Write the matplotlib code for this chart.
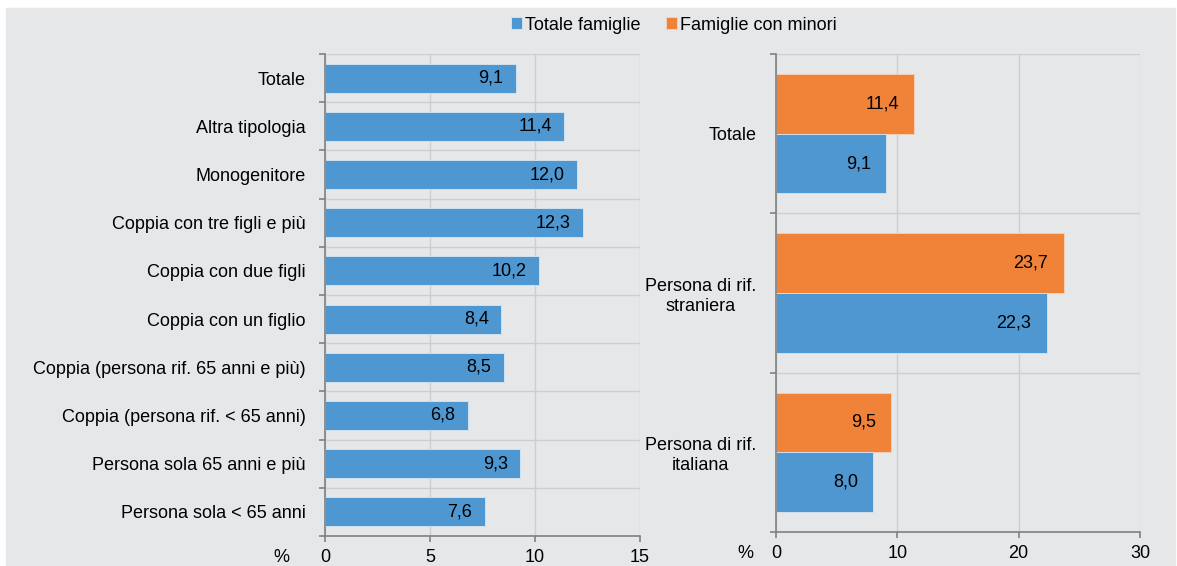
import matplotlib.pyplot as plt
from matplotlib.patches import Rectangle

plt.rcParams['font.family'] = ['Liberation Sans', 'DejaVu Sans']

# dati pannello sinistro (tipologia familiare)
tipologie = ["Totale", "Altra tipologia", "Monogenitore", "Coppia con tre figli e più",
             "Coppia con due figli", "Coppia con un figlio",
             "Coppia (persona rif. 65 anni e più)", "Coppia (persona rif. < 65 anni)",
             "Persona sola 65 anni e più", "Persona sola < 65 anni"]
tot_tipologie = [9.1, 11.4, 12.0, 12.3, 10.2, 8.4, 8.5, 6.8, 9.3, 7.6]

# dati pannello destro (cittadinanza)
gruppi = ["Totale", "Persona di rif.\nstraniera", "Persona di rif.\nitaliana"]
tot_famiglie = [9.1, 22.3, 8.0]
fam_minori = [11.4, 23.7, 9.5]

BLU = '#4f97d1'
ARANCIO = '#f18339'
SFONDO = '#e6e7e9'
GRIGLIA = '#cdced0'
ASSE = '#808080'
FS = 13


def fmt(v):
    return f"{v:.1f}".replace('.', ',')


def stile_assi(ax, n, xmax, step, dx_perc):
    ax.set_facecolor(SFONDO)
    ax.set_xlim(0, xmax)
    ax.set_ylim(n - 0.5, -0.5)
    ax.set_xticks(range(0, xmax + 1, step))
    ax.set_yticks(range(n))
    ax.set_yticks([k + 0.5 for k in range(-1, n)], minor=True)
    ax.grid(axis='x', color=GRIGLIA, lw=1)
    ax.grid(axis='y', which='minor', color=GRIGLIA, lw=1)
    ax.set_axisbelow(True)
    for s in ['top', 'right']:
        ax.spines[s].set_visible(False)
    for s in ['left', 'bottom']:
        ax.spines[s].set_color(ASSE)
        ax.spines[s].set_linewidth(1.2)
    ax.tick_params(axis='y', which='major', length=0, pad=14, labelsize=FS)
    ax.tick_params(axis='y', which='minor', length=4, color=ASSE, width=1.2)
    ax.tick_params(axis='x', length=4, color=ASSE, width=1.2, pad=5, labelsize=FS)
    # simbolo % accanto all'asse x
    ax.annotate("%", (0, 0), xycoords='axes fraction', xytext=(dx_perc, -9),
                textcoords='offset points', ha='right', va='top', fontsize=FS)


fig = plt.figure(figsize=(11.77, 5.66), dpi=100)
fig.patches.append(Rectangle((6 / 1177, 0), 1169 / 1177, 558 / 566,
                             transform=fig.transFigure, color=SFONDO, zorder=-1))

# pannello sinistro
ax1 = fig.add_axes([325 / 1177, 1 - 536 / 566, 315 / 1177, 482 / 566])
stile_assi(ax1, len(tipologie), 15, 5, -26)
y1 = list(range(len(tipologie)))
ax1.barh(y1, tot_tipologie, height=0.6, color=BLU, edgecolor='#dbe6f0', lw=0.6)
ax1.set_yticklabels(tipologie)
for y, v in zip(y1, tot_tipologie):
    ax1.annotate(fmt(v), (v, y), xytext=(-9, 0), textcoords='offset points',
                 ha='right', va='center', fontsize=FS)

# pannello destro
ax2 = fig.add_axes([776 / 1177, 1 - 532 / 566, 364 / 1177, 478 / 566])
stile_assi(ax2, len(gruppi), 30, 10, -16)
y2 = list(range(len(gruppi)))
h = 0.375
ax2.barh([y - h / 2 for y in y2], fam_minori, height=h, color=ARANCIO,
         edgecolor='#f5d2bb', lw=0.6, label="Famiglie con minori")
ax2.barh([y + h / 2 for y in y2], tot_famiglie, height=h, color=BLU,
         edgecolor='#dbe6f0', lw=0.6, label="Totale famiglie")
ax2.set_yticklabels(gruppi, multialignment='center')
for y, v in zip(y2, fam_minori):
    ax2.annotate(fmt(v), (v, y - h / 2), xytext=(-11, 0), textcoords='offset points',
                 ha='right', va='center', fontsize=FS)
for y, v in zip(y2, tot_famiglie):
    ax2.annotate(fmt(v), (v, y + h / 2), xytext=(-11, 0), textcoords='offset points',
                 ha='right', va='center', fontsize=FS)

# legenda in alto
hnd, lab = ax2.get_legend_handles_labels()
fig.legend(hnd[::-1], lab[::-1], loc='center', bbox_to_anchor=(674 / 1177, 1 - 25 / 566),
           ncol=2, frameon=False, fontsize=FS, handlelength=0.6, handleheight=0.6,
           handletextpad=0.2, columnspacing=1.4)

fig.savefig("out.png", dpi=100)
